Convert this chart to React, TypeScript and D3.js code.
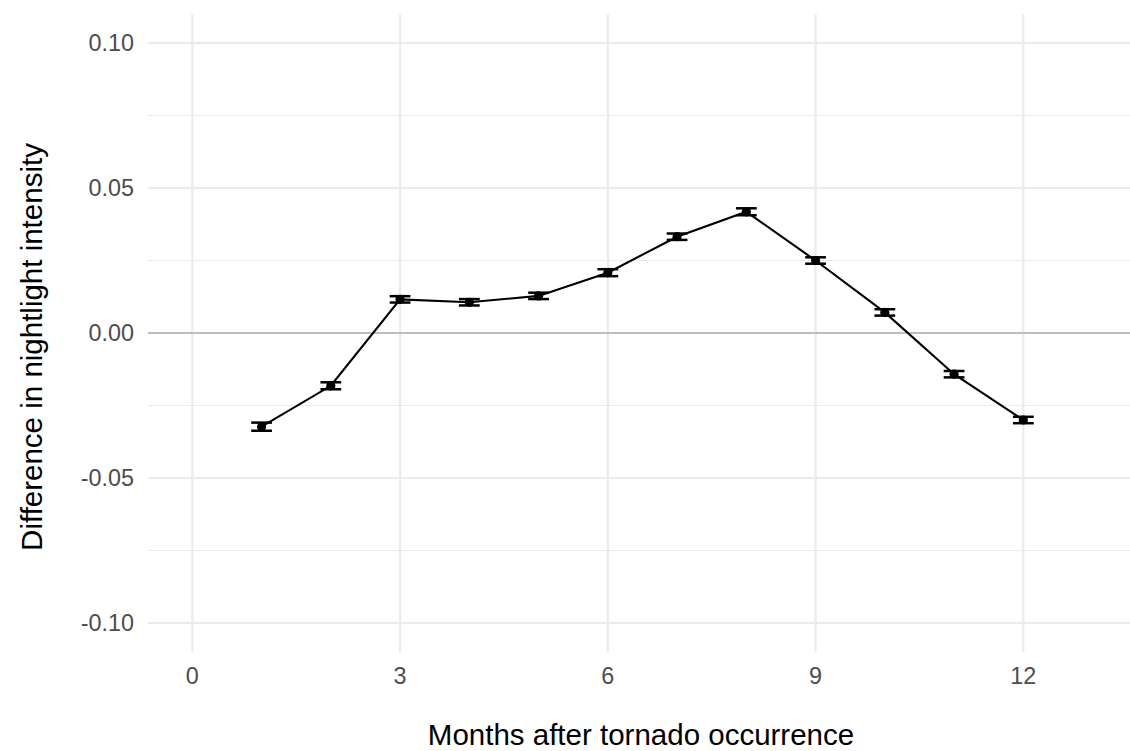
import React from "react";
import * as d3 from "d3";

const months = [1, 2, 3, 4, 5, 6, 7, 8, 9, 10, 11, 12];
const estimates = [-0.0323, -0.0182, 0.0116, 0.0106, 0.0128, 0.0208, 0.0332, 0.0418, 0.025, 0.0071, -0.0142, -0.03];
const stdErrors = [0.0014, 0.0012, 0.0011, 0.0011, 0.0011, 0.0012, 0.0011, 0.0012, 0.0011, 0.0011, 0.0011, 0.0011];
const xTicks = [0, 3, 6, 9, 12];
const yTicks = [-0.1, -0.05, 0, 0.05, 0.1];
const yMinor = [-0.075, -0.025, 0.025, 0.075];
const xTitle = "Months after tornado occurrence";
const yTitle = "Difference in nightlight intensity";

const W = 1130;
const H = 751;
const panel = { left: 148, right: 1135, top: 14, bottom: 652 };

export default function App() {
  const x = d3.scaleLinear().domain([-0.64, 13.6]).range([panel.left, panel.left + (13.6 + 0.64) * 69.25]);
  const y = d3.scaleLinear().domain([-0.11, 0.11]).range([panel.bottom, panel.top]);
  const data = months.map((m, i) => ({ m, v: estimates[i], se: stdErrors[i] }));
  const line = d3
    .line<{ m: number; v: number }>()
    .x((d) => x(d.m))
    .y((d) => y(d.v));
  const capHalf = x(0.15) - x(0);
  const font = "'Liberation Sans', Arial, sans-serif";
  const fmt = (t: number) => d3.format(".2f")(t).replace("\u2212", "-");
  return (
    <svg width={W} height={H} style={{ position: "absolute", left: 0, top: 0, background: "#fff" }}>
      <rect x={0} y={0} width={W} height={H} fill="#fff" />
      {yMinor.map((t) => (
        <line key={"mn" + t} x1={panel.left} x2={W} y1={y(t)} y2={y(t)} stroke="#ebebeb" strokeWidth={1.1} />
      ))}
      {yTicks.map((t) => (
        <line key={"my" + t} x1={panel.left} x2={W} y1={y(t)} y2={y(t)} stroke="#ebebeb" strokeWidth={2.2} />
      ))}
      {xTicks.map((t) => (
        <line key={"mx" + t} x1={x(t)} x2={x(t)} y1={panel.top} y2={panel.bottom} stroke="#ebebeb" strokeWidth={2.2} />
      ))}
      <line x1={panel.left} x2={W} y1={y(0)} y2={y(0)} stroke="#bebebe" strokeWidth={2} />
      <path d={line(data) || ""} fill="none" stroke="#000" strokeWidth={2.1} />
      {data.map((d) => (
        <g key={"eb" + d.m} stroke="#000" strokeWidth={2.5}>
          <line x1={x(d.m)} x2={x(d.m)} y1={y(d.v - d.se)} y2={y(d.v + d.se)} />
          <line x1={x(d.m) - capHalf} x2={x(d.m) + capHalf} y1={y(d.v - d.se)} y2={y(d.v - d.se)} />
          <line x1={x(d.m) - capHalf} x2={x(d.m) + capHalf} y1={y(d.v + d.se)} y2={y(d.v + d.se)} />
        </g>
      ))}
      {data.map((d) => (
        <circle key={"pt" + d.m} cx={x(d.m)} cy={y(d.v)} r={4.6} fill="#000" />
      ))}
      {yTicks.map((t) => (
        <text key={"yl" + t} x={134} y={y(t)} dy="0.36em" textAnchor="end" fontFamily={font} fontSize={23.4} fill="#4d4d4d">
          {fmt(t)}
        </text>
      ))}
      {xTicks.map((t) => (
        <text key={"xl" + t} x={x(t)} y={684} textAnchor="middle" fontFamily={font} fontSize={23.4} fill="#4d4d4d">
          {t}
        </text>
      ))}
      <text x={641} y={745} textAnchor="middle" fontFamily={font} fontSize={29.5} fill="#000">
        {xTitle}
      </text>
      <text transform={`translate(42,347) rotate(-90)`} textAnchor="middle" fontFamily={font} fontSize={29.5} fill="#000">
        {yTitle}
      </text>
    </svg>
  );
}
